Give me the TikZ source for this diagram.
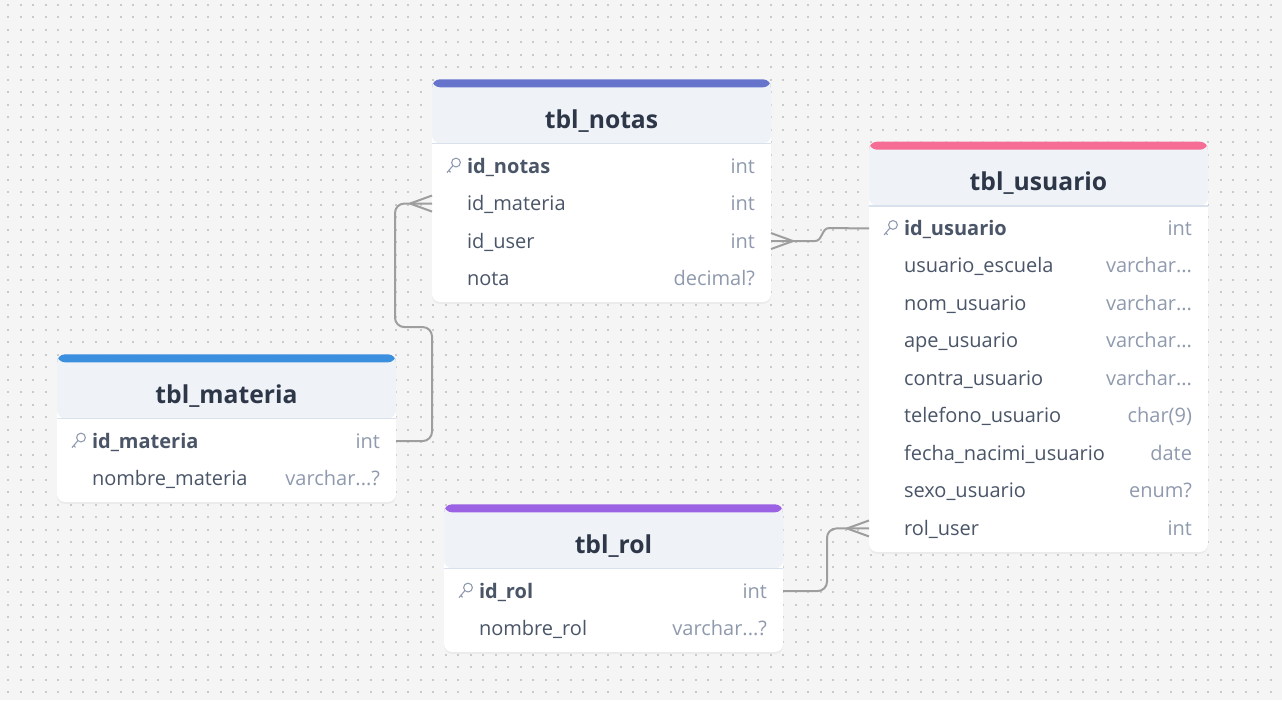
\documentclass[tikz,border=0pt]{standalone}
\usepackage{fontspec}
\setmainfont{Open Sans}
\usetikzlibrary{positioning, fit, backgrounds, shadows}

\definecolor{canvasc}{HTML}{F5F5F5}
\definecolor{dotc}{HTML}{CACACA}
\definecolor{headc}{HTML}{EFF3F8}
\definecolor{rulec}{HTML}{D9E2EC}
\definecolor{titlec}{HTML}{2D3748}
\definecolor{namec}{HTML}{4A5568}
\definecolor{typec}{HTML}{8F9AAE}
\definecolor{linkc}{HTML}{9E9E9E}
\definecolor{notasc}{HTML}{6674CC}
\definecolor{usuarioc}{HTML}{F56D95}
\definecolor{materiac}{HTML}{3A8FDE}
\definecolor{rolc}{HTML}{9B63E3}

% one field line: name on the left, type on the right
\newcommand{\fld}[2]{\hspace*{14.25pt}#1\hspace{0pt plus 1filll}{\color{typec}#2}}

\begin{document}
\begin{tikzpicture}[
    x=0.75pt, y=-0.75pt,
    head/.style={minimum width=254.25pt, minimum height=48pt, inner sep=0pt, outer sep=0pt, text height=27pt, text depth=1.5pt, font=\fontsize{18.5}{20}\selectfont\bfseries, text=titlec},
    row/.style={minimum width=254.25pt, minimum height=28.125pt, inner xsep=12pt, inner ysep=0pt, outer sep=0pt, text width=230.25pt, text height=12pt, text depth=1.5pt, font=\fontsize{15}{17}\selectfont, text=namec, align=left},
    card/.style={rounded corners=6pt, fill=white, inner sep=0pt, drop shadow={shadow xshift=0pt, shadow yshift=-1.5pt, opacity=0.08},
        path picture={\fill[headc] (path picture bounding box.north west) rectangle ([yshift=-48pt]path picture bounding box.north east);
                      \fill[#1] (path picture bounding box.north west) rectangle ([yshift=-6pt]path picture bounding box.north east);}},
    headrule/.style={draw=rulec, line width=1.2pt},
    link/.style={draw=linkc, line width=1.5pt, rounded corners=7pt},
    dots/.style={draw=dotc, line width=1.2pt, dash pattern=on 1.2pt off 8.175pt},
    key/.pic={\draw[typec, line width=0.8pt] (3,-3.5) circle (3.3pt) (0,-0.5) -- (-6,6.5) (-4.2,4.5) -- (-2.4,6.3);}
]

\useasboundingbox (0,0) rectangle (1282,700);

% canvas
\begin{scope}[on background layer]
\fill[canvasc] (0,0) rectangle (1282,700);
\foreach \j in {0,...,55}
    \draw[dots] (7.4,{4.7+12.5*\j}) -- (1282,{4.7+12.5*\j});
\end{scope}

% tbl_notas
\node[head] (notas) at (601.5,111.3) {tbl\_notas};
\node[row, below=3pt of notas] (notas-r1) {\fld{\textbf{id\_notas}}{int}};
\node[row, below=0pt of notas-r1] (notas-r2) {\fld{id\_materia}{int}};
\node[row, below=0pt of notas-r2] (notas-r3) {\fld{id\_user}{int}};
\node[row, below=0pt of notas-r3] (notas-r4) {\fld{nota}{decimal?}};
\coordinate[below=3.5pt of notas-r4.south] (notas-end);
\pic at ([xshift=15.75pt]notas-r1.west) {key};
\draw[headrule] (notas.south west) -- (notas.south east);

% tbl_usuario
\node[head] (usuario) at (1038.5,173.7) {tbl\_usuario};
\node[row, below=3pt of usuario] (usuario-r1) {\fld{\textbf{id\_usuario}}{int}};
\node[row, below=0pt of usuario-r1] (usuario-r2) {\fld{usuario\_escuela}{varchar...}};
\node[row, below=0pt of usuario-r2] (usuario-r3) {\fld{nom\_usuario}{varchar...}};
\node[row, below=0pt of usuario-r3] (usuario-r4) {\fld{ape\_usuario}{varchar...}};
\node[row, below=0pt of usuario-r4] (usuario-r5) {\fld{contra\_usuario}{varchar...}};
\node[row, below=0pt of usuario-r5] (usuario-r6) {\fld{telefono\_usuario}{char(9)}};
\node[row, below=0pt of usuario-r6] (usuario-r7) {\fld{fecha\_nacimi\_usuario}{date}};
\node[row, below=0pt of usuario-r7] (usuario-r8) {\fld{sexo\_usuario}{enum?}};
\node[row, below=0pt of usuario-r8] (usuario-r9) {\fld{rol\_user}{int}};
\coordinate[below=3.5pt of usuario-r9.south] (usuario-end);
\pic at ([xshift=15.75pt]usuario-r1.west) {key};
\draw[headrule] (usuario.south west) -- (usuario.south east);

% tbl_materia
\node[head] (materia) at (226.5,386.3) {tbl\_materia};
\node[row, below=3pt of materia] (materia-r1) {\fld{\textbf{id\_materia}}{int}};
\node[row, below=0pt of materia-r1] (materia-r2) {\fld{nombre\_materia}{varchar...?}};
\coordinate[below=3.5pt of materia-r2.south] (materia-end);
\pic at ([xshift=15.75pt]materia-r1.west) {key};
\draw[headrule] (materia.south west) -- (materia.south east);

% tbl_rol
\node[head] (rol) at (613.5,536.3) {tbl\_rol};
\node[row, below=3pt of rol] (rol-r1) {\fld{\textbf{id\_rol}}{int}};
\node[row, below=0pt of rol-r1] (rol-r2) {\fld{nombre\_rol}{varchar...?}};
\coordinate[below=3.5pt of rol-r2.south] (rol-end);
\pic at ([xshift=15.75pt]rol-r1.west) {key};
\draw[headrule] (rol.south west) -- (rol.south east);

% cards behind the tables
\begin{scope}[on background layer]
\node[card=notasc, fit=(notas)(notas-end)] {};
\node[card=usuarioc, fit=(usuario)(usuario-end)] {};
\node[card=materiac, fit=(materia)(materia-end)] {};
\node[card=rolc, fit=(rol)(rol-end)] {};
\end{scope}

% relations
\draw[link] (materia-r1.east) -- ++(36,0) -- ++(0,-114) -- ++(-37,0) |- (notas-r2.west);
\draw[link] ([xshift=-16.5pt]notas-r2.west) -- ([yshift=6pt]notas-r2.west);
\draw[link] ([xshift=-16.5pt]notas-r2.west) -- ([yshift=-6pt]notas-r2.west);

\draw[link, sharp corners] (notas-r3.east) -- ++(44,0) to[out=0,in=180] ++(14,-13) -- (usuario-r1.west);
\draw[link] ([xshift=16.5pt]notas-r3.east) -- ([yshift=6pt]notas-r3.east);
\draw[link] ([xshift=16.5pt]notas-r3.east) -- ([yshift=-6pt]notas-r3.east);

\draw[link] (rol-r1.east) -- ++(44,0) |- (usuario-r9.west);
\draw[link] ([xshift=-16.5pt]usuario-r9.west) -- ([yshift=6pt]usuario-r9.west);
\draw[link] ([xshift=-16.5pt]usuario-r9.west) -- ([yshift=-6pt]usuario-r9.west);

\end{tikzpicture}
\end{document}
